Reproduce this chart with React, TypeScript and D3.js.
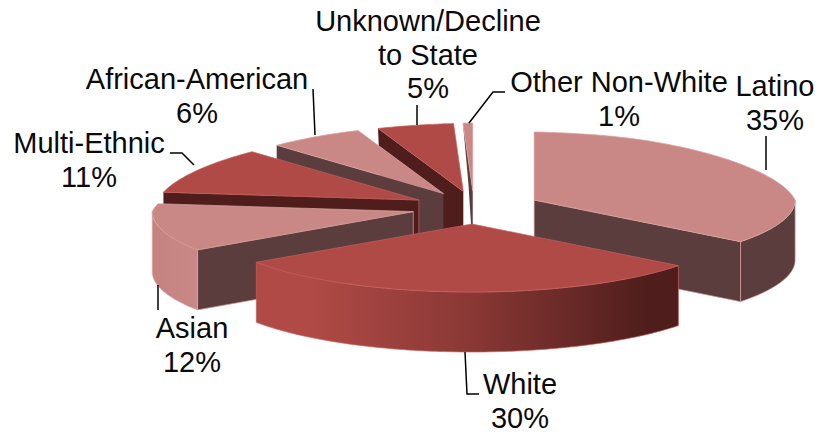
import React from "react";
import * as d3 from "d3";

// Share of each group, in percent, clockwise from twelve o'clock.
const groups = ["Latino", "White", "Asian", "Multi-Ethnic", "African-American", "Unknown/Decline to State", "Other Non-White"];
const shares = [35, 30, 12, 11, 6, 5, 1];

const WIDTH = 818;
const HEIGHT = 435;

// Pie geometry
const centerX = 470;
const centerY = 207.5;
const rimX = 261;
const rimY = 68;
const depth = 60;
const explode = 72;
const explodeY = 0.229;
// Foreshortening of the tilted disc: rim angles drift towards the viewer's side.
const angleLean = (4.5 * Math.PI) / 180;
// Left-hand slices sit slightly closer to the middle than a pure explode gives.
const inwardNudge = [0, 2, 13, 13, 12, 9, 5];
// Far slices are painted first so nearer ones overlap them.
const paintOrder = [6, 5, 4, 3, 2, 0, 1];

const PINK = { top: "#c98886", edge: "#dba3a1", wall: "#5a3d3c" };
const RED = { top: "#b04a46", edge: "#c4605b", wall: "#4f1e1c" };
const palette = [PINK, RED, PINK, RED, PINK, RED, PINK];
const outerWallFill = ["#5a3d3c", "url(#whiteRim)", "url(#asianRim)", "none", "none", "none", "none"];

// Text blocks: centre x, first baseline, wrapped lines.
const labelLines = [
  ["Latino", "35%"],
  ["White", "30%"],
  ["Asian", "12%"],
  ["Multi-Ethnic", "11%"],
  ["African-American", "6%"],
  ["Unknown/Decline", "to State", "5%"],
  ["Other Non-White", "1%"],
];
const labelAnchors: [number, number][] = [
  [775, 96], [520, 394], [192, 338], [89, 153], [197, 89], [428, 31], [619, 92],
];
const leaderPaths: [number, number][][] = [
  [[766, 136], [766, 170]],
  [[465, 352], [467, 394], [479, 394]],
  [[158, 285], [158, 310]],
  [[170, 153], [182, 153], [194, 165]],
  [[313, 89], [315, 135]],
  [[417, 105], [417, 125]],
  [[505, 92], [493, 92], [469, 123]],
];

const pieLayout = d3.pie<number>().sort(null).startAngle(0).endAngle(2 * Math.PI);
const arcs = pieLayout(shares);
const pathFrom = d3.line<[number, number]>().x((d) => d[0]).y((d) => d[1]);

// Maps an angle on the rim (level 0 = top face, 1 = bottom face) to the page,
// squeezing the far side of the ellipse for perspective.
function rimPoint(cx: number, cy: number, angle: number, level: number): [number, number] {
  const seen = angle - angleLean * Math.cos(angle) * Math.sin(angle) * Math.sin(angle);
  const forward = -Math.cos(seen);
  const far = forward < 0 ? Math.pow(-forward, 40) : 0;
  const squeeze = forward < 0 ? 1 + 0.13 * forward - 0.3 * far : 1;
  const x = cx + rimX * Math.sin(seen) * squeeze * (1 - level * far * 0.6);
  return [x, cy + rimY * forward + level * depth];
}

function arcSamples(cx: number, cy: number, a0: number, a1: number, level: number) {
  const steps = Math.max(2, Math.ceil(((a1 - a0) * 180) / Math.PI));
  return d3.range(steps + 1).map((i) => rimPoint(cx, cy, a0 + ((a1 - a0) * i) / steps, level));
}

function Slice({ index }: { index: number }) {
  const { startAngle: a0, endAngle: a1 } = arcs[index];
  const mid = (a0 + a1) / 2;
  const cx = centerX + explode * Math.sin(mid) + inwardNudge[index];
  const cy = centerY - explode * explodeY * Math.cos(mid);
  const colors = palette[index];

  const radialWall = (angle: number) => {
    const outerTop = rimPoint(cx, cy, angle, 0);
    const outerBottom = rimPoint(cx, cy, angle, 1);
    return pathFrom([outerTop, [cx, cy], [cx, cy + depth], outerBottom]) + "Z";
  };

  const front0 = Math.max(a0, Math.PI / 2);
  const front1 = Math.min(a1, (3 * Math.PI) / 2);
  const hasOuterWall = front1 > front0;
  const outerWall = hasOuterWall
    ? pathFrom([
        ...arcSamples(cx, cy, front0, front1, 0),
        ...arcSamples(cx, cy, front0, front1, 1).reverse(),
      ]) + "Z"
    : "";
  const topFace = pathFrom([[cx, cy], ...arcSamples(cx, cy, a0, a1, 0)]) + "Z";

  return (
    <g strokeWidth={0.7} strokeLinejoin="round">
      {a1 < Math.PI && <path d={radialWall(a1)} fill={colors.wall} stroke={colors.edge} />}
      {a0 > Math.PI && <path d={radialWall(a0)} fill={colors.wall} stroke={a0 > 4.9 ? "none" : colors.edge} />}
      {hasOuterWall && <path d={outerWall} fill={outerWallFill[index]} stroke={colors.edge} />}
      <path d={topFace} fill={colors.top} stroke={colors.edge} />
    </g>
  );
}

export default function App() {
  const whiteMid = (arcs[1].startAngle + arcs[1].endAngle) / 2;
  const whiteX = centerX + explode * Math.sin(whiteMid);
  const whiteSpan = rimX * Math.sin(arcs[1].startAngle);
  const asianLeft = 152;
  const asianRight = 197;

  return (
    <svg
      width={WIDTH}
      height={HEIGHT}
      viewBox={`0 0 ${WIDTH} ${HEIGHT}`}
      style={{ position: "absolute", left: 0, top: 0, background: "#fff" }}
    >
      <defs>
        <linearGradient id="whiteRim" gradientUnits="userSpaceOnUse" x1={whiteX - whiteSpan} x2={whiteX + whiteSpan} y1={0} y2={0}>
          <stop offset="0.12" stopColor="#b04a46" />
          <stop offset="0.5" stopColor="#8a3835" />
          <stop offset="0.92" stopColor="#4f1e1c" />
        </linearGradient>
        <linearGradient id="asianRim" gradientUnits="userSpaceOnUse" x1={asianLeft} x2={asianRight} y1={0} y2={0}>
          <stop offset="0" stopColor="#c48381" />
          <stop offset="1" stopColor="#c98886" />
        </linearGradient>
      </defs>

      {paintOrder.map((i) => (
        <Slice key={groups[i]} index={i} />
      ))}

      <g fill="none" stroke="#000" strokeWidth={1.5}>
        {leaderPaths.map((pts, i) => (
          <path key={groups[i]} d={pathFrom(pts) ?? ""} />
        ))}
      </g>

      <g fontFamily="'Liberation Sans', Arial, sans-serif" fontSize={29} fill="#0a0a0a" textAnchor="middle">
        {labelLines.map((lines, i) => (
          <text key={groups[i]} x={labelAnchors[i][0]} y={labelAnchors[i][1]}>
            {lines.map((line, j) => (
              <tspan key={line} x={labelAnchors[i][0]} dy={j === 0 ? 0 : 33.5}>
                {line}
              </tspan>
            ))}
          </text>
        ))}
      </g>
    </svg>
  );
}
